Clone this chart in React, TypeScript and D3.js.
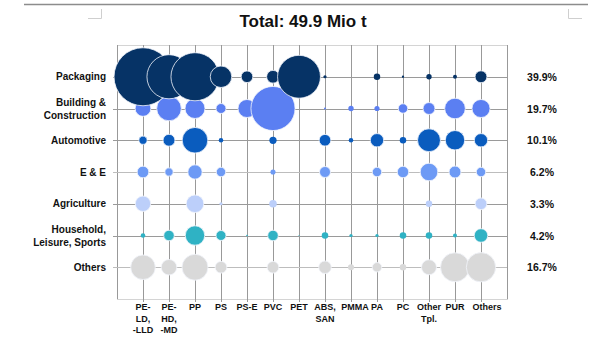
import React from 'react';
import * as d3 from 'd3';

// demand by application (rows) and polymer (columns), kt
const polymers = [
  ['PE-', 'LD,', '-LLD'], ['PE-', 'HD,', '-MD'], ['PP'], ['PS'], ['PS-E'], ['PVC'], ['PET'],
  ['ABS,', 'SAN'], ['PMMA'], ['PA'], ['PC'], ['Other', 'Tpl.'], ['PUR'], ['Others'],
];
const sectors = [
  ['Packaging'], ['Building &', 'Construction'], ['Automotive'], ['E & E'],
  ['Agriculture'], ['Household,', 'Leisure, Sports'], ['Others'],
];
const shares = ['39.9%', '19.7%', '10.1%', '6.2%', '3.3%', '4.2%', '16.7%'];
const colors = ['#063366', '#5b7ff2', '#0a5cbe', '#6d9af5', '#bccffa', '#2fb2c4', '#d9d9d9'];

const packaging = [6400, 3700, 4400, 880, 260, 310, 3500, 20, 0, 80, 10, 55, 30, 270];
const building = [470, 1150, 760, 190, 620, 3700, 0, 8, 55, 50, 170, 270, 810, 620];
const automotive = [130, 270, 1250, 40, 0, 100, 0, 260, 40, 340, 80, 1000, 720, 340];
const electrical = [260, 130, 390, 170, 0, 50, 0, 230, 0, 170, 250, 590, 270, 170];
const agriculture = [450, 0, 590, 20, 0, 110, 0, 0, 0, 0, 0, 80, 0, 260];
const household = [40, 210, 720, 190, 5, 210, 2, 80, 20, 20, 80, 80, 30, 350];
const others = [1150, 460, 1280, 260, 0, 260, 2, 300, 70, 170, 80, 430, 1600, 1640];
const values = [packaging, building, automotive, electrical, agriculture, household, others];

const title = 'Total: 49.9 Mio t';

const W = 600;
const H = 350;
const left = 117;
const right = 507;
const top = 45;
const bottom = 299;
const font = 'Liberation Sans, Arial, sans-serif';

export default function App() {
  const x = d3.scaleLinear().domain([0, polymers.length + 1]).range([left, right]);
  const y = d3.scaleLinear().domain([0, sectors.length + 1]).range([top, bottom]);
  const r = d3.scaleSqrt().domain([0, d3.max(values.flat()) as number]).range([0, 29]);

  // draw bottom rows first so packaging lies on top
  const order = d3.range(sectors.length).reverse();

  return (
    <svg width={W} height={H} style={{ position: 'absolute', left: 0, top: 0, background: '#fff' }}>
      {/* page decoration */}
      <line x1={24} x2={588} y1={4.5} y2={4.5} stroke="#8c8c8c" strokeWidth={1.5} />
      <path d="M88,18.5H101.5V9" fill="none" stroke="#cfcfcf" />
      <path d="M568.5,9V18.5H582" fill="none" stroke="#cfcfcf" />

      <text x={303} y={27} textAnchor="middle" fontFamily={font} fontWeight="bold" fontSize={17} fill="#111">
        {title}
      </text>

      {/* frame */}
      <rect x={left + 0.5} y={top + 0.5} width={right - left} height={bottom - top} fill="none" stroke="#d4d4d4" />
      <line x1={left + 0.5} x2={left + 0.5} y1={top} y2={bottom} stroke="#999" />
      <line x1={right + 0.5} x2={right + 0.5} y1={top} y2={bottom} stroke="#999" />

      {/* grid */}
      {polymers.map((_, i) => (
        <line key={'v' + i} x1={Math.round(x(i + 1)) + 0.5} x2={Math.round(x(i + 1)) + 0.5}
          y1={top} y2={bottom + 3} stroke="#999" />
      ))}
      {sectors.map((_, j) => (
        <line key={'h' + j} x1={left - 4} x2={right} y1={Math.round(y(j + 1)) + 0.5} y2={Math.round(y(j + 1)) + 0.5}
          stroke={j === 3 || j === 6 ? '#bdbdbd' : '#9a9a9a'} />
      ))}

      {/* bubbles */}
      {order.map(j => (
        <g key={'row' + j}>
          {values[j].map((v, i) => v > 0 && (
            <circle key={i} cx={x(i + 1)} cy={y(j + 1)} r={r(v)} fill={colors[j]}
              stroke="#f2f5fb" strokeWidth={r(v) > 4 ? 0.8 : 0} />
          ))}
        </g>
      ))}

      {/* row labels */}
      {sectors.map((lines, j) => (
        <text key={'s' + j} x={106} y={y(j + 1) + 3.5 - (lines.length - 1) * 6.5} textAnchor="end"
          fontFamily={font} fontWeight="bold" fontSize={10} fill="#111">
          {lines.map((t, k) => <tspan key={k} x={106} dy={k === 0 ? 0 : 13}>{t}</tspan>)}
        </text>
      ))}

      {/* shares */}
      {shares.map((s, j) => (
        <text key={'p' + j} x={542} y={y(j + 1) + 4} textAnchor="middle"
          fontFamily={font} fontWeight="bold" fontSize={10.5} fill="#111">{s}</text>
      ))}

      {/* polymer labels */}
      {polymers.map((lines, i) => (
        <text key={'c' + i} x={x(i + 1) + (i === 13 ? 6 : i === 8 ? 4 : 0)} y={310} textAnchor="middle"
          fontFamily={font} fontWeight="bold" fontSize={9} fill="#111">
          {lines.map((t, k) => (
            <tspan key={k} x={x(i + 1) + (i === 13 ? 6 : i === 8 ? 4 : 0)} dy={k === 0 ? 0 : 11.5}>{t}</tspan>
          ))}
        </text>
      ))}
    </svg>
  );
}
